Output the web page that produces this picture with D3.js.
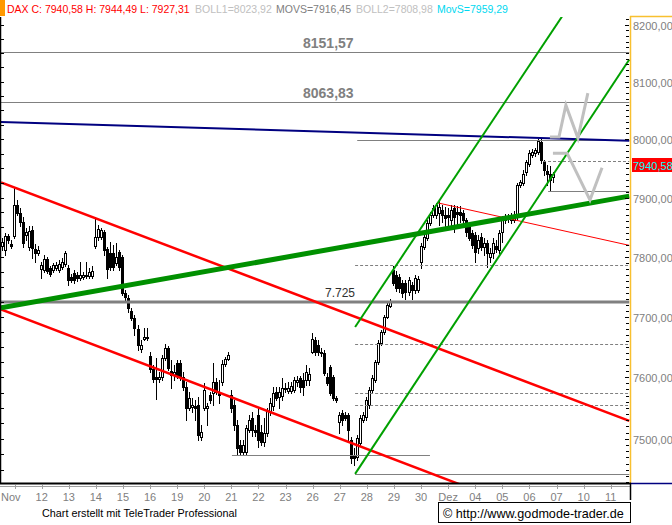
<!DOCTYPE html>
<html><head><meta charset="utf-8">
<script src="https://cdn.jsdelivr.net/npm/d3@7"></script>
<style>body{margin:0;background:#fff;}svg{display:block;font-family:"Liberation Sans",Arial,sans-serif;}</style>
</head><body><svg id="c" width="672" height="525"></svg>
<script>
// ---------- DATA ----------
const dayLabels = ["Nov","12","13","14","15","16","19","20","21","22","23","26","27","28","29","30","Dez","04","05","06","07","10","11"];
const open = [
7818,7811,7835,7821,7835,7887,7874,7859,7837,
7816,7845,7813,7806,7779,7778,7796,7781,7778,
7781,7778,7783,7788,7781,7766,7773,7769,7764,
7766,7768,7768,7768,7818,7833,7833,7842,7813,
7806,7806,7790,7808,7800,7739,7731,7709,7697,
7679,7646,7663,7665,7635,7613,7600,7597,7600,
7632,7648,7610,7604,7623,7623,7600,7584,7550,
7552,7553,7555,7503,7550,7550,7571,7574,7592,
7574,7592,7622,7630,7571,7555,7522,7490,7479,
7479,7514,7533,7514,7538,7511,7495,7509,7545,
7553,7576,7568,7569,7583,7578,7578,7579,7592,
7599,7596,7596,7596,7641,7661,7653,7641,7640,
7600,7617,7600,7566,7527,7541,7538,7538,7498,
7474,7471,7493,7530,7535,7555,7579,7596,7625,
7656,7675,7699,7718,7778,7769,7766,7756,7756,
7741,7753,7744,7744,7791,7816,7832,7857,7870,
7870,7874,7879,7870,7870,7862,7882,7876,7876,
7874,7862,7850,7840,7837,7815,7833,7816,7823,
7800,7806,7818,7811,7842,7862,7864,7862,7862,
7867,7921,7925,7943,7957,7973,7976,7978,7995,
7961,7945,7940,7935];
const close = [
7825,7835,7828,7818,7887,7874,7859,7823,7842,
7843,7815,7806,7811,7786,7796,7776,7771,7786,
7786,7788,7791,7806,7761,7761,7761,7764,7769,
7769,7769,7774,7776,7833,7847,7845,7811,7779,
7783,7783,7800,7783,7739,7733,7714,7697,7681,
7653,7653,7666,7666,7613,7597,7597,7600,7632,
7648,7615,7604,7609,7604,7600,7584,7550,7566,
7555,7550,7506,7511,7579,7553,7563,7592,7576,
7571,7622,7630,7637,7550,7522,7485,7479,7490,
7517,7530,7514,7511,7498,7495,7509,7545,7558,
7574,7566,7576,7583,7582,7583,7586,7596,7596,
7584,7584,7609,7605,7663,7641,7641,7640,7607,
7591,7574,7566,7563,7538,7530,7533,7514,7469,
7469,7501,7533,7538,7563,7579,7599,7625,7656,
7675,7699,7719,7724,7756,7748,7748,7739,7741,
7761,7744,7764,7763,7818,7833,7857,7870,7882,
7887,7884,7870,7865,7867,7879,7867,7872,7870,
7862,7842,7832,7820,7808,7828,7816,7823,7806,
7806,7823,7813,7840,7864,7864,7865,7865,7870,
7921,7926,7940,7961,7976,7978,7981,7997,7964,
7947,7940,7930,7940.58];
const high = [
7832,7840,7838,7828,7916,7896,7882,7867,7848,
7852,7852,7821,7818,7791,7803,7800,7784,7790,
7791,7795,7798,7810,7786,7771,7778,7774,7791,
7774,7791,7781,7784,7867,7854,7848,7845,7816,
7825,7820,7823,7811,7803,7744,7736,7714,7703,
7686,7661,7681,7681,7641,7620,7632,7609,7637,
7655,7651,7628,7620,7628,7628,7609,7592,7576,
7566,7563,7568,7522,7591,7558,7576,7623,7599,
7596,7628,7633,7641,7579,7563,7530,7498,7498,
7522,7538,7543,7522,7550,7522,7533,7550,7566,
7584,7584,7584,7599,7591,7592,7592,7600,7602,
7602,7607,7620,7615,7673,7666,7661,7648,7645,
7607,7620,7604,7569,7543,7547,7543,7541,7503,
7485,7506,7538,7543,7568,7584,7604,7628,7661,
7678,7703,7724,7729,7784,7776,7771,7761,7761,
7766,7758,7769,7768,7823,7838,7862,7876,7887,
7891,7896,7887,7884,7882,7887,7887,7886,7886,
7879,7865,7854,7845,7842,7837,7840,7832,7828,
7815,7832,7828,7845,7869,7872,7872,7874,7877,
7925,7930,7947,7964,7981,7983,7985,8000,8002,
7964,7956,7954,7944.49];
const low = [
7811,7803,7823,7815,7832,7870,7852,7816,7828,
7811,7798,7791,7803,7764,7774,7773,7768,7774,
7778,7774,7779,7784,7753,7758,7756,7759,7761,
7763,7764,7764,7764,7815,7828,7830,7803,7764,
7778,7778,7786,7778,7736,7728,7707,7694,7670,
7645,7641,7661,7661,7609,7592,7565,7592,7596,
7628,7612,7583,7596,7599,7596,7579,7530,7547,
7543,7530,7498,7498,7547,7522,7558,7555,7573,
7558,7587,7618,7628,7543,7514,7474,7474,7474,
7474,7511,7505,7505,7487,7490,7489,7505,7538,
7547,7563,7550,7563,7576,7574,7574,7576,7586,
7576,7571,7587,7587,7640,7637,7637,7635,7604,
7587,7571,7563,7560,7509,7522,7530,7498,7461,
7458,7466,7490,7527,7530,7550,7576,7592,7622,
7653,7671,7698,7716,7753,7743,7741,7733,7730,
7736,7730,7739,7741,7781,7813,7828,7854,7867,
7865,7854,7859,7845,7854,7848,7842,7854,7859,
7857,7835,7828,7815,7791,7806,7811,7803,7783,
7791,7798,7808,7806,7825,7857,7859,7857,7859,
7864,7918,7921,7939,7954,7969,7971,7974,7959,
7939,7921,7913,7927.31];
const yTickValues = [7500,7600,7700,7800,7900,8000,8100,8200];

// horizontal support / resistance lines (value, from slot, to slot)
const levelValues = [8151.57, 8063.83, 7725, 7997.9, 7963.4, 7911.3, 7786.2, 7654.6, 7574.3, 7555, 7473.7, 7443.1];
const levelFrom   = [0, 0, 0, 118.3, 180, 181.7, 117.6, 117.6, 117.6, 117.6, 76.7, 117.6];
const levelTo     = [207, 207, 207, 207, 207, 207, 207, 207, 207, 207, 140.8, 207];
const levelKind   = ["solid","solid","thick","solid","dash","solid","dash","dash","dash","dash","solid","solid"];
const levelLabels = ["8151,57","8063,83","7.725"];

// trend lines: [slot, value] endpoints
const redUpper   = [[0, 7926], [207, 7532]];
const redLower   = [[0, 7712], [157, 7418]];
const redThin    = [[145.1, 7891], [207, 7821]];
const greenThick = [[0, 7714.6], [207, 7901]];
const greenChanUp  = [[117.6, 7682.8], [188, 8228]];
const greenChanLow = [[117.6, 7443.4], [207, 8125.6]];
const blueLine   = [[0, 8029.8], [207, 7997.8]];

// projected path (gray zigzags)
const projUpSlots = [182.3, 185.3, 187.6, 191.6, 194.9];
const projUpVals  = [8004, 8004, 8059, 8002, 8080];
const projDnSlots = [183.3, 188, 195.6, 199.6];
const projDnVals  = [7976, 7976, 7896, 7951];

const headerTexts = ["DAX C: 7940,58 H: 7944,49 L: 7927,31", "BOLL1=8023,92", "MOVS=7916,45", "BOLL2=7808,98", "MovS=7959,29"];

// ---------- CHART ----------
const svg = d3.select("#c");
const x = d3.scaleLinear().domain([0, 207]).range([1, 624.3]);
const y = d3.scaleLog().domain([7500, 8200]).range([438.7, 24.7]);
const fmt = v => d3.format(".2f")(v).replace(".", ",");

svg.append("defs").append("clipPath").attr("id","plot")
  .append("rect").attr("x",1).attr("y",17).attr("width",629).attr("height",466);

// header
svg.append("rect").attr("x",0).attr("y",0).attr("width",5).attr("height",16).attr("fill","#ff9900");
const hx = [7, 195, 276, 356, 437];
const hc = ["#ff0000","#c0c0c0","#808080","#c0c0c0","#00d8f0"];
headerTexts.forEach((t,i)=>{
  svg.append("text").attr("x",hx[i]).attr("y",13).attr("font-size",10.5)
    .attr("fill",hc[i]).text(t);
});

const plot = svg.append("g").attr("clip-path","url(#plot)");

// candles
const cg = plot.append("g");
open.forEach((o,i)=>{
  const c = close[i];
  const cx = Math.floor(x(i+0.5));
  cg.append("line").attr("x1",cx+0.5).attr("x2",cx+0.5)
    .attr("y1",Math.round(y(high[i]))).attr("y2",Math.round(y(low[i]))+1)
    .attr("stroke","#000").attr("stroke-width",1);
  const t = Math.round(y(Math.max(o,c))), b = Math.round(y(Math.min(o,c)));
  cg.append("rect").attr("x",cx-0.5).attr("y",t+0.5).attr("width",2).attr("height",Math.max(b-t,1))
    .attr("fill", c>=o ? "#fff" : "#000").attr("stroke","#000").attr("stroke-width",1);
});

// horizontal levels
levelValues.forEach((v,i)=>{
  const k = levelKind[i];
  const yy = Math.round(y(v)) + (k==="thick"?0:0.5);
  plot.append("line").attr("x1",x(levelFrom[i])).attr("x2",x(levelTo[i])+5)
    .attr("y1",yy).attr("y2",yy)
    .attr("stroke", "#808080").attr("stroke-width", k==="thick"?3:1)
    .attr("stroke-dasharray", k==="dash"?"3,2":null);
});
svg.append("text").attr("x",303).attr("y",Math.round(y(levelValues[0]))-4).attr("font-size",14)
  .attr("font-weight","bold").attr("fill","#808080").text(levelLabels[0]);
svg.append("text").attr("x",303).attr("y",Math.round(y(levelValues[1]))-4).attr("font-size",14)
  .attr("font-weight","bold").attr("fill","#808080").text(levelLabels[1]);
svg.append("text").attr("x",325).attr("y",Math.round(y(levelValues[2]))-5).attr("font-size",12)
  .attr("fill","#303030").text(levelLabels[2]);

// trend lines
function seg(pts, color, w){
  plot.append("line").attr("x1",x(pts[0][0])).attr("y1",y(pts[0][1]))
    .attr("x2",x(pts[1][0])+5).attr("y2",y(pts[1][1]) + (y(pts[1][1])-y(pts[0][1]))/(x(pts[1][0])-x(pts[0][0]))*5)
    .attr("stroke",color).attr("stroke-width",w);
}
seg(blueLine, "#000080", 2);
seg(redThin, "#ff0000", 1);
seg(redUpper, "#ff0000", 2.5);
seg(redLower, "#ff0000", 2.5);
seg(greenChanUp, "#00a000", 2);
seg(greenChanLow, "#00a000", 2);
seg(greenThick, "#009000", 5);

// projection zigzags
const pl = d3.line().x(d=>x(d[0])).y(d=>y(d[1]));
plot.append("path").attr("d", pl(projUpSlots.map((s,i)=>[s,projUpVals[i]])))
  .attr("fill","none").attr("stroke","#c0c0c0").attr("stroke-width",3);
plot.append("path").attr("d", pl(projDnSlots.map((s,i)=>[s,projDnVals[i]])))
  .attr("fill","none").attr("stroke","#c0c0c0").attr("stroke-width",3);

// left border with minor ticks
svg.append("line").attr("x1",0.5).attr("x2",0.5).attr("y1",17).attr("y2",484).attr("stroke","#000").attr("stroke-width",1.5);
d3.range(7425, 8226, 25).forEach(v=>{
  const yy = Math.round(y(v))+0.5;
  if (yy>17 && yy<483) svg.append("line").attr("x1",1).attr("x2",4).attr("y1",yy).attr("y2",yy).attr("stroke","#000");
});

// right axis
svg.append("line").attr("x1",630.5).attr("x2",630.5).attr("y1",16).attr("y2",483).attr("stroke","#f8c030").attr("stroke-width",1.5);
svg.append("line").attr("x1",630).attr("x2",672).attr("y1",16.5).attr("y2",16.5).attr("stroke","#f8c030").attr("stroke-width",1.5);
svg.append("line").attr("x1",631).attr("x2",672).attr("y1",483.5).attr("y2",483.5).attr("stroke","#000080").attr("stroke-width",1.5);
d3.range(7430, 8211, 10).forEach(v=>{
  const yy = Math.round(y(v))+0.5;
  const major = v%100===0;
  svg.append("line").attr("x1",major?625:626).attr("x2",629).attr("y1",yy).attr("y2",yy).attr("stroke","#000");
});
yTickValues.forEach(v=>{
  svg.append("text").attr("x",633).attr("y",Math.round(y(v))+4.5).attr("font-size",11)
    .attr("fill","#808080").text(fmt(v));
});
// last price tag
const yl = Math.round(y(close[close.length-1]));
svg.append("rect").attr("x",632).attr("y",yl-16).attr("width",40).attr("height",14).attr("fill","#ff0000");
svg.append("text").attr("x",633).attr("y",yl-4).attr("font-size",11).attr("fill","#00ffff").text(fmt(close[close.length-1]));

// x axis
svg.append("line").attr("x1",0).attr("x2",631).attr("y1",483.5).attr("y2",483.5).attr("stroke","#000").attr("stroke-width",2);
svg.append("line").attr("x1",0).attr("x2",630).attr("y1",486.5).attr("y2",486.5).attr("stroke","#a0a0a0").attr("stroke-width",1);
svg.append("line").attr("x1",630.5).attr("x2",630.5).attr("y1",483).attr("y2",500).attr("stroke","#000").attr("stroke-width",1.5);
dayLabels.forEach((d,i)=>{
  const cx = x(i*9+4.5);
  svg.append("line").attr("x1",Math.round(cx)+0.5).attr("x2",Math.round(cx)+0.5).attr("y1",485).attr("y2",489).attr("stroke","#a0a0a0");
  svg.append("text").attr("x", i===0 ? 1 : cx).attr("y",500.5).attr("font-size",11)
    .attr("text-anchor", i===0 ? "start" : "middle").attr("fill","#808080").text(d);
});

// footer
svg.append("text").attr("x",42).attr("y",516.5).attr("font-size",10.8)
  .attr("fill","#000").text("Chart erstellt mit TeleTrader Professional");
svg.append("rect").attr("x",438.5).attr("y",502.5).attr("width",192).attr("height",20).attr("fill","none").attr("stroke","#000");
svg.append("text").attr("x",443).attr("y",517.5).attr("font-size",12.6)
  .attr("fill","#000").text("© http://www.godmode-trader.de");
</script></body></html>
